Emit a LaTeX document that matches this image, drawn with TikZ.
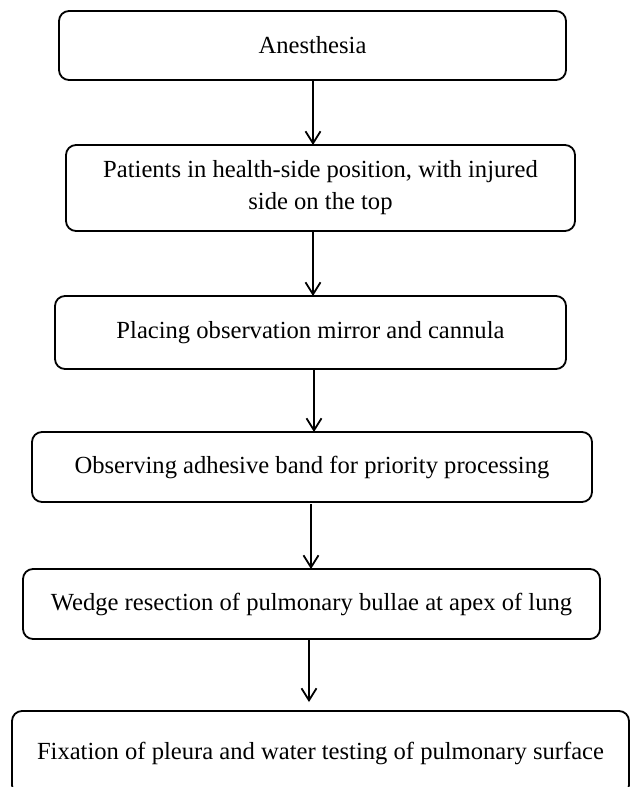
\documentclass[tikz,border=0pt]{standalone}
\usepackage{fontspec}
\setmainfont{Liberation Serif}
\usetikzlibrary{arrows.meta}
\begin{document}
\begin{tikzpicture}[x=1pt,y=1pt,
  stepbox/.style={draw=black, line width=1.8pt, rounded corners=10pt, align=center,
    inner sep=0pt, outer sep=0pt, font=\fontsize{24.6}{32}\selectfont},
  arr/.style={draw=black, line width=1.8pt, -{Straight Barb[length=12pt,width=15pt,line width=1.8pt]}}]
\fill[white] (0,0) rectangle (630,-787);
\useasboundingbox (0,0) rectangle (630,-787);
\node[stepbox, minimum width=507, minimum height=69] (n1) at (312.5,-45.5) {Anesthesia};
\node[stepbox, minimum width=509, minimum height=86] (n2) at (320.5,-188) {Patients in health-side position, with injured\\side on the top};
\node[stepbox, minimum width=511, minimum height=73] (n3) at (310.5,-332.5) {Placing observation mirror and cannula};
\node[stepbox, minimum width=560, minimum height=70] (n4) at (312,-467) {Observing adhesive band for priority processing};
\node[stepbox, minimum width=577, minimum height=70] (n5) at (311.5,-604) {Wedge resection of pulmonary bullae at apex of lung};
\node[stepbox, minimum width=617, minimum height=84] (n6) at (320.5,-753) {Fixation of pleura and water testing of pulmonary surface};
\draw[arr] ([xshift=0.5pt]n1.south) -- ([xshift=0.5pt]n1.south |- n2.north);
\draw[arr] ([xshift=-7.5pt]n2.south) -- ([xshift=-7.5pt]n2.south |- n3.north);
\draw[arr] ([xshift=3.5pt]n3.south) -- ([xshift=3.5pt]n3.south |- n4.north);
\draw[arr] ([xshift=-1pt,yshift=-2pt]n4.south) -- ([xshift=-1pt]n4.south |- n5.north);
\coordinate (t6) at ([xshift=-11.5pt,yshift=9pt]n6.north);
\draw[arr] ([xshift=-2.5pt]n5.south) -- (t6);
\end{tikzpicture}
\end{document}
